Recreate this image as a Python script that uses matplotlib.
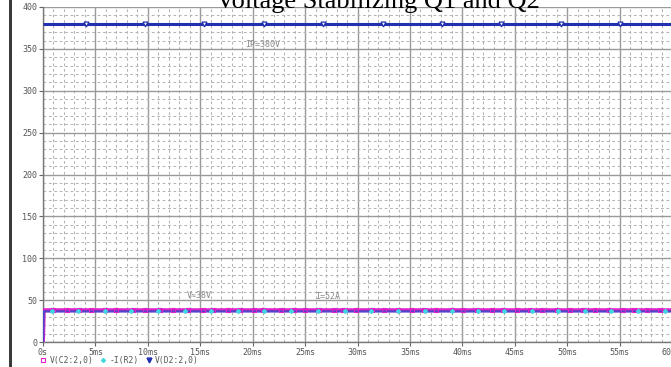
import matplotlib
matplotlib.use("Agg")
import matplotlib.pyplot as plt
from matplotlib.ticker import MultipleLocator, FixedLocator
from matplotlib.lines import Line2D
from matplotlib.patches import Rectangle

# ---- data (time in ms) ----
time_ms = [0.0, 0.08, 60.0]
v_d2 = [380.0, 380.0, 380.0]        # V(D2:2,0)
v_c2 = [0.0, 38.0, 38.0]            # V(C2:2,0)
i_r2 = [0.0, 36.5, 36.5]            # -I(R2)

# marker sample times along each trace
v_d2_marks = [4.1, 9.76, 15.4, 21.1, 26.7, 32.4, 38.1, 43.7, 49.4, 55.0]
v_c2_marks = [1.0, 2.3, 3.4, 4.6, 5.9, 7.0, 8.6, 9.7, 11.2, 12.4, 13.8, 15.3,
              16.2, 17.6, 18.8, 20.1, 21.0, 22.7, 23.9, 25.0, 26.3, 27.8,
              28.6, 29.9, 31.4, 32.5, 33.9, 35.2, 36.3, 37.5, 39.0, 40.1,
              41.4, 42.8, 43.9, 45.2, 46.5, 47.6, 49.0, 50.3, 51.5, 52.7,
              54.0, 55.3, 56.4, 57.6, 58.9]
i_r2_marks = [0.9, 3.3, 5.9, 8.4, 11.0, 13.5, 16.0, 18.6, 21.1, 23.7, 26.2,
              28.8, 31.3, 33.9, 36.4, 39.0, 41.5, 44.0, 46.6, 49.1, 51.7,
              54.2, 56.8, 59.3]

x_ticks = [0, 5, 10, 15, 20, 25, 30, 35, 40, 45, 50, 55, 60]
x_tick_labels = ["0s", "5ms", "10ms", "15ms", "20ms", "25ms", "30ms", "35ms",
                 "40ms", "45ms", "50ms", "55ms", "60ms"]
y_ticks = [0, 50, 100, 150, 200, 250, 300, 350, 400]

series_names = ["V(C2:2,0)", "-I(R2)", "V(D2:2,0)"]
c_mag = "#e020c8"
c_cyan = "#40d8e0"
c_blue = "#2030b0"
grid_c = "#9a9a9a"
txt_c = "#555555"
mono = "DejaVu Sans Mono"

fig = plt.figure(figsize=(6.71, 3.67), dpi=100)
W, H = 671.0, 367.0
ax = fig.add_axes([43 / W, 25 / H, (672 - 43) / W, (342 - 7) / H])
ax.set_xlim(0, 60)
ax.set_ylim(0, 400)

# grid
ax.xaxis.set_major_locator(FixedLocator(x_ticks))
ax.yaxis.set_major_locator(FixedLocator(y_ticks))
ax.xaxis.set_minor_locator(MultipleLocator(1))
ax.yaxis.set_minor_locator(MultipleLocator(10))
ax.grid(which="major", color=grid_c, lw=1.0, ls="-")
ax.grid(which="minor", color="#b4b4b4", lw=0.75, ls=(0, (2.6, 2.6)))
ax.set_axisbelow(True)

for s in ["top", "right"]:
    ax.spines[s].set_visible(False)
for s in ["left", "bottom"]:
    ax.spines[s].set_color("#777777")
    ax.spines[s].set_linewidth(1.0)

ax.set_xticklabels(x_tick_labels)
ax.set_yticklabels([str(v) for v in y_ticks])
ax.tick_params(which="major", length=3, width=0.8, color="#666666",
               labelsize=6, labelcolor=txt_c, pad=1.2)
ax.tick_params(which="minor", length=0)
for lab in ax.get_xticklabels() + ax.get_yticklabels():
    lab.set_family(mono)
ax.set_xlabel("Time", fontsize=6.5, family=mono, color=txt_c, labelpad=11.5)

# traces
ax.plot(time_ms, v_d2, color=c_blue, lw=2.2, zorder=4, solid_capstyle="butt")
ax.plot(time_ms, v_c2, color=c_mag, lw=2.8, zorder=4)
ax.plot(time_ms, i_r2, color="#5044c8", lw=1.6, zorder=5)

ax.plot(v_d2_marks, [v_d2[-1]] * len(v_d2_marks), ls="none", marker="v",
        ms=3.5, mfc="white", mec=c_blue, mew=0.9, zorder=6)
ax.plot(v_c2_marks, [v_c2[-1]] * len(v_c2_marks), ls="none", marker="s",
        ms=2.6, mfc="none", mec=c_mag, mew=0.8, zorder=6)
ax.plot(i_r2_marks, [i_r2[-1]] * len(i_r2_marks), ls="none", marker="D",
        ms=2.0, mfc=c_cyan, mec=c_cyan, zorder=6)

# annotations
ax.text(21.0, 355, "IP=380V", fontsize=6, family=mono, color="#8a8a8a",
        ha="center", va="center")
ax.text(14.9, 55, "V≈38V", fontsize=6, family=mono, color="#8a8a8a",
        ha="center", va="center")
ax.text(27.2, 54, "I=52A", fontsize=6, family=mono, color="#8a8a8a",
        ha="center", va="center")

# legend row under the tick labels
handles = [
    Line2D([], [], ls="none", marker="s", ms=2.6, mfc="none", mec=c_mag, mew=0.8),
    Line2D([], [], ls="none", marker="D", ms=2.0, mfc=c_cyan, mec=c_cyan),
    Line2D([], [], ls="none", marker="v", ms=3.5, mfc=c_blue, mec=c_blue),
]
leg = fig.legend(handles, series_names, loc="center left",
                 bbox_to_anchor=(41 / W, (367 - 360.5) / H), ncol=3,
                 frameon=False, handlelength=0.6, handletextpad=0.5,
                 columnspacing=0.9, borderaxespad=0, borderpad=0,
                 prop={"family": mono, "size": 5.8})
for t in leg.get_texts():
    t.set_color(txt_c)

# window frame bar at the left edge
fig.add_artist(Rectangle((9 / W, 0), 3 / W, 1, transform=fig.transFigure,
                         color="#3a3a3a", lw=0))

# caption running off the top edge
fig.text(378 / W, 1.0 - 8 / H, "Voltage Stabilizing Q1 and Q2",
         family="Liberation Serif", fontsize=19, ha="center", va="baseline",
         color="black", zorder=0)

fig.savefig("out.png", dpi=100)
